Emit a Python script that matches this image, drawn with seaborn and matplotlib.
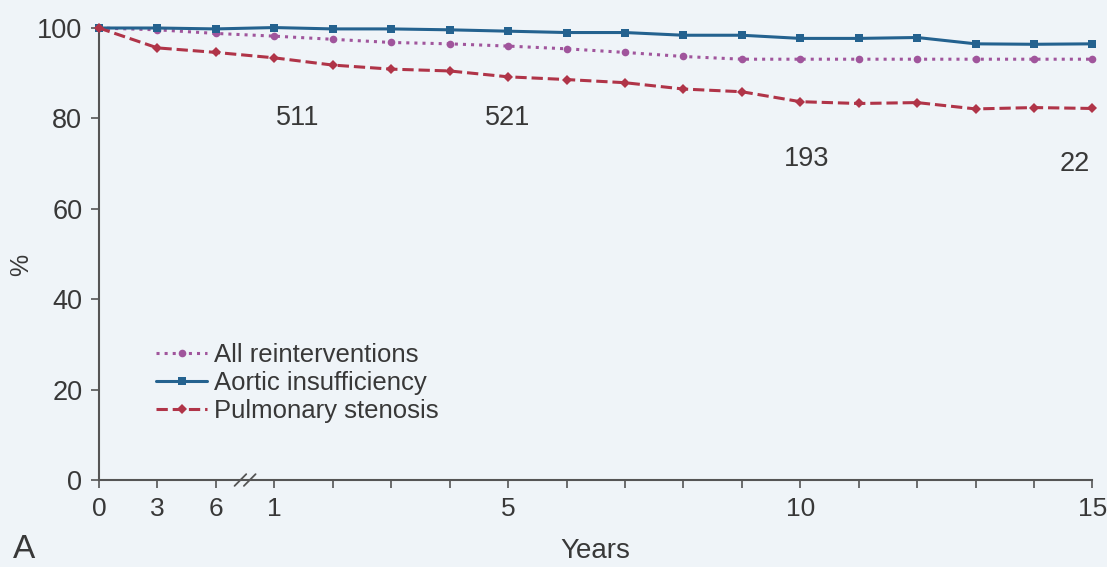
import numpy as np
import pandas as pd
import matplotlib
matplotlib.use('Agg')
import matplotlib.pyplot as plt
import seaborn as sns

# tick labels: months 0,3,6 then years 1..15
time_labels = ['0', '3', '6', '1', '', '', '', '5', '', '', '', '', '10',
               '', '', '', '', '15']
time_pos = list(range(0, 18))

all_reint = [100, 99.6, 98.8, 98.2, 97.5, 96.8, 96.5, 96.0, 95.4, 94.6, 93.7, 93.1,
             93.1, 93.1, 93.1, 93.1, 93.1, 93.1]
aortic = [100, 100, 99.8, 100.1, 99.8, 99.8, 99.6, 99.3, 99.0, 99.0, 98.4, 98.4,
          97.7, 97.7, 97.9, 96.5, 96.4, 96.5]
pulmonary = [100, 95.6, 94.6, 93.4, 91.8, 90.9, 90.5, 89.2, 88.6, 87.9, 86.5, 85.9,
             83.7, 83.3, 83.5, 82.1, 82.4, 82.2]

at_risk = ['511', '521', '193', '22']
at_risk_x = [3.4, 7.0, 12.1, 16.7]
at_risk_y = [80, 80, 71, 70]

df = pd.DataFrame({'t': time_pos, 'All reinterventions': all_reint,
                   'Aortic insufficiency': aortic, 'Pulmonary stenosis': pulmonary})
long = df.melt(id_vars='t', var_name='group', value_name='pct')

sns.set_style('ticks')
plt.rcParams['font.family'] = ['Liberation Sans', 'DejaVu Sans']

bg = '#eff4f8'
txtc = '#383838'
fig = plt.figure(figsize=(11.07, 5.67), dpi=100, facecolor=bg)
ax = fig.add_axes([0.0894, 0.1534, 0.8975, 0.7972])
ax.set_facecolor(bg)

palette = {'All reinterventions': '#a0559c', 'Aortic insufficiency': '#24628f',
           'Pulmonary stenosis': '#b03448'}
styles = {'All reinterventions': ':', 'Aortic insufficiency': '-', 'Pulmonary stenosis': '--'}
markers = {'All reinterventions': 'o', 'Aortic insufficiency': 's', 'Pulmonary stenosis': 'D'}

for name in ['All reinterventions', 'Aortic insufficiency', 'Pulmonary stenosis']:
    sub = long[long['group'] == name]
    sns.lineplot(data=sub, x='t', y='pct', ax=ax, color=palette[name], linestyle=styles[name],
                 linewidth=2.2, marker=markers[name], markersize=5.5,
                 markeredgewidth=0, label=name, clip_on=False, zorder=3)

for txt, x, y in zip(at_risk, at_risk_x, at_risk_y):
    ax.text(x, y, txt, ha='center', va='center', fontsize=19.5, color=txtc)

ax.set_xlim(0, 17)
ax.set_ylim(0, 100)
ax.set_xticks(time_pos)
ax.set_xticklabels(time_labels)
ax.set_yticks([0, 20, 40, 60, 80, 100])
ax.tick_params(axis='both', colors='#555555', labelcolor=txtc, labelsize=19.5,
               length=6, width=1.2)
ax.tick_params(axis='y', pad=6)
ax.tick_params(axis='x', pad=6, labelsize=19)
for s in ['top', 'right']:
    ax.spines[s].set_visible(False)
for s in ['left', 'bottom']:
    ax.spines[s].set_color('#555555')
    ax.spines[s].set_linewidth(1.5)

ax.set_xlabel('Years', fontsize=20, color=txtc)
ax.xaxis.set_label_coords(0.5, -0.128)
ax.set_ylabel('%', fontsize=18, color=txtc)
ax.yaxis.set_label_coords(-0.066, 0.476)

# axis break marks between 6 months and 1 year
for dx in [2.42, 2.58]:
    ax.plot([dx - 0.1, dx + 0.1], [-1.3, 1.3], color='#555555', lw=1.3, clip_on=False)

fig.text(0.012, 0.015, 'A', fontsize=24, color=txtc)

leg = ax.legend(loc='lower left', bbox_to_anchor=(0.047, 0.103), frameon=False,
                fontsize=18.5, handlelength=2.0, handletextpad=0.25, labelspacing=0.15,
                borderaxespad=0)
for t in leg.get_texts():
    t.set_color(txtc)

plt.savefig('out.png', dpi=100, facecolor=bg)
